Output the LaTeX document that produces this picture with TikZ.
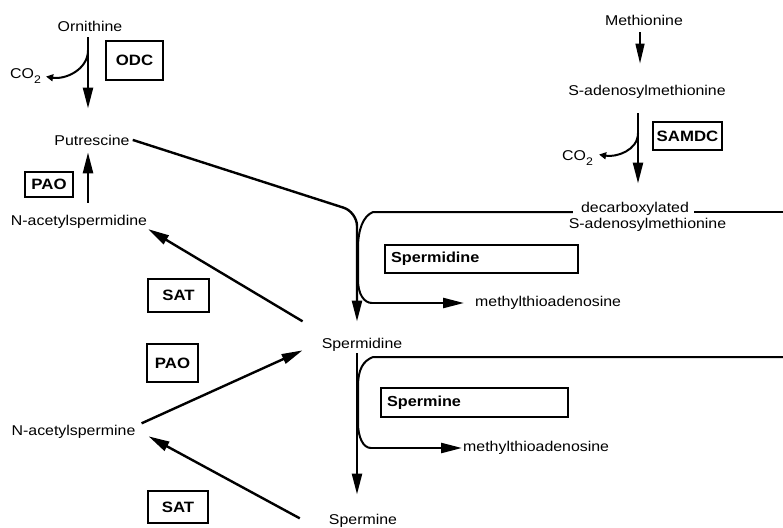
\documentclass[tikz,border=0pt]{standalone}
\usepackage{fontspec}
\setmainfont{Liberation Sans}[FakeStretch=1.12]
\usetikzlibrary{arrows.meta, positioning, calc}

\begin{document}
\begin{tikzpicture}[
  x=1pt, y=-1pt,
  metab/.style={anchor=base, inner sep=1pt, font=\fontsize{14.2}{17}\selectfont},
  enzyme/.style={draw, line width=1.6pt, inner sep=0pt, font=\fontsize{15}{18}\selectfont\bfseries},
  bar/.style={draw, line width=1.6pt, inner xsep=6pt, inner ysep=0pt, align=left, font=\fontsize{14.5}{18}\selectfont\bfseries},
  arr/.style={-{Triangle[length=21pt, width=10pt]}, line width=2.4pt},
  thinarr/.style={-{Triangle[length=20pt, width=9pt]}, line width=1.6pt},
  co2arr/.style={-{Triangle[length=7pt, width=7pt]}, line width=2pt},
  link/.style={line width=2pt},
]
\useasboundingbox (0,0) rectangle (783,527);

% Metabolites
\node[metab] (orn) at (90,32) {Ornithine};
\node[metab] (put) at (92,145) {Putrescine};
\node[metab] (acspd) at (79,225) {N-acetylspermidine};
\node[metab] (acspm) at (73.5,435) {N-acetylspermine};
\node[metab] (spd) at (362,348) {Spermidine};
\node[metab] (spm) at (363,524) {Spermine};
\node[metab] (met) at (644,26) {Methionine};
\node[metab] (sam) at (647,95) {S-adenosylmethionine};
\node[metab] (dc) at (635,212) {decarboxylated};
\node[metab] (sam2) at (647.5,228) {S-adenosylmethionine};
\node[metab, anchor=west] (mta1) at (474,303) {methylthioadenosine};
\node[metab, anchor=west] (mta2) at (462,448) {methylthioadenosine};
\node[metab, anchor=base west] (co2a) at (9,78) {CO\raisebox{-5pt}{\fontsize{11}{11}\selectfont 2}};
\node[metab, anchor=base west] (co2b) at (561,160) {CO\raisebox{-5pt}{\fontsize{11}{11}\selectfont 2}};

% Enzymes
\node[enzyme, minimum width=57, minimum height=39] (odc) at (134.5,60.5) {ODC};
\node[enzyme, minimum width=48, minimum height=25] (pao1) at (49,184.5) {PAO};
\node[enzyme, minimum width=61, minimum height=33] (sat1) at (178.5,295.5) {SAT};
\node[enzyme, minimum width=51, minimum height=38] (pao2) at (172.5,363) {PAO};
\node[enzyme, minimum width=60, minimum height=32] (sat2) at (178,507) {SAT};
\node[enzyme, minimum width=69, minimum height=28] (samdc) at (687.5,136) {SAMDC};
\node[bar, text width=181, minimum height=28] (spdbox) at (481.5,259) {Spermidine};
\node[bar, text width=175, minimum height=29] (spmbox) at (474.5,402.5) {Spermine};

% Guide lines
\coordinate (lx) at (88,0);
\coordinate (trunk) at (357,0);
\coordinate (rx) at (638,0);
\coordinate (redge) at (783,0);
\coordinate (redge2) at (783,357);

% Left pathway
\draw[arr] ($(lx |- orn.south)+(0,4)$) -- ($(lx |- put.north)+(0,-25)$);
\draw[co2arr] ($(lx |- orn.south)+(0,17)$) to[out=-90, in=-10] ($(co2a.east)+(4,1)$);
\draw[arr] ($(lx |- acspd.north)+(0,-11)$) -- ($(lx |- put.south)+(0,6)$);

% Trunk to spermidine
\draw[arr, rounded corners=14pt] ([xshift=2pt]put.east) -- (trunk |- dc.base) -- ($(trunk |- spd.north)+(0,-15)$);
\draw[link] ([xshift=-7pt]dc.base west) -- ($(trunk |- dc.base)+(16,0)$)
  .. controls +(-10,4) and +(0,-18) .. ++(-15,36) -- ++(0,32)
  .. controls +(0,14) and +(-8,0) .. ++(14,23);
\draw[arr, shorten >=10pt] ($(trunk |- mta1.west)+(14,0)$) -- (mta1.west);
\draw[link] ([xshift=4pt]dc.base east) -- (redge |- dc.base);

% Trunk to spermine
\draw[arr] ($(trunk |- spd.south)+(0,1)$) -- ($(trunk |- spm.north)+(0,-18)$);
\draw[link] (redge2) -- ($(trunk |- redge2)+(16,0)$)
  .. controls +(-10,4) and +(0,-18) .. ++(-15,30) -- ++(0,36)
  .. controls +(0,14) and +(-8,0) .. ++(13,25);
\draw[arr] ($(trunk |- mta2.west)+(13,0)$) -- (mta2.west);

% Back-conversion
\draw[arr] ($(spd.west)+(-18,-23)$) -- (acspd.south east);
\draw[arr] ($(acspm.east)+(5,-8)$) -- ($(spd.west)+(-18,6)$);
\draw[arr] ($(spm.west)+(-28,-2)$) -- ($(acspm.east)+(12,5)$);

% Methionine side
\draw[thinarr] ($(rx |- met.south)+(2,5)$) -- ($(rx |- sam.north)+(2,-20)$);
\draw[arr] ($(rx |- sam.south)+(0,14)$) -- ($(rx |- dc.north)+(0,-17)$);
\draw[co2arr] ($(rx |- sam.south)+(0,34)$) to[out=-90, in=-10] ($(co2b.east)+(5,-3)$);

\end{tikzpicture}
\end{document}
